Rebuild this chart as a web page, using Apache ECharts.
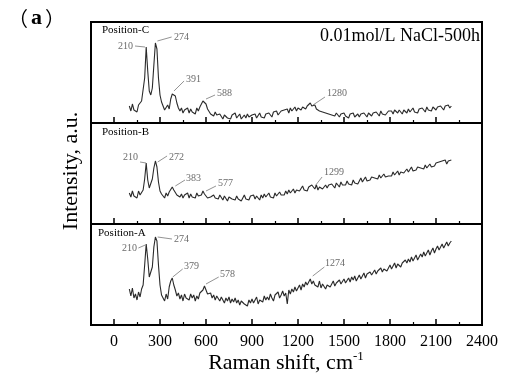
<!DOCTYPE html>
<html><head><meta charset="utf-8">
<script src="https://cdn.jsdelivr.net/npm/echarts@6/dist/echarts.min.js"></script>
<style>html,body{margin:0;padding:0;background:#fff}#c{width:528px;height:377px}</style>
</head><body><div id="c"></div>
<script>
const ramanShift = [
100,110,120,130,140,150,160,170,180,190,
200,210,220,230,240,250,260,270,280,290,
300,310,320,330,340,350,360,370,380,390,
400,410,420,430,440,450,460,470,480,490,
500,510,520,530,540,550,560,570,580,590,
600,610,620,630,640,650,660,670,680,690,
700,710,720,730,740,750,760,770,780,790,
800,810,820,830,840,850,860,870,880,890,
900,910,920,930,940,950,960,970,980,990,
1000,1010,1020,1030,1040,1050,1060,1070,1080,1090,
1100,1110,1120,1130,1140,1150,1160,1170,1180,1190,
1200,1210,1220,1230,1240,1250,1260,1270,1280,1290,
1300,1310,1320,1330,1340,1350,1360,1370,1380,1390,
1400,1410,1420,1430,1440,1450,1460,1470,1480,1490,
1500,1510,1520,1530,1540,1550,1560,1570,1580,1590,
1600,1610,1620,1630,1640,1650,1660,1670,1680,1690,
1700,1710,1720,1730,1740,1750,1760,1770,1780,1790,
1800,1810,1820,1830,1840,1850,1860,1870,1880,1890,
1900,1910,1920,1930,1940,1950,1960,1970,1980,1990,
2000,2010,2020,2030,2040,2050,2060,2070,2080,2090,
2100,2110,2120,2130,2140,2150,2160,2170,2180,2190,
2200];

// Position-C (top panel)
const intensityC = [
17,12,19,13,15,11,18,16,22,20,
45,76,52,32,28,35,58,80,74,45,
28,21,17,13,15,18,14,24,29,31,
27,20,15,12,15,10,13,11,15,10,
14,11,12,9,15,12,16,18,22,24,
19,14,12,9,10,7,11,8,6,9,
7,4,8,9,5,7,4,8,6,10,
5,7,9,4,6,8,5,9,6,4,
8,6,9,5,7,10,6,8,5,9,
7,10,8,6,11,9,12,8,10,12,
10,13,11,14,10,15,12,13,16,12,
15,17,13,16,18,14,17,16,20,17,
16,18,14,15,12,14,11,13,10,12,
9,11,8,10,7,10,8,6,9,7,
10,7,8,5,9,7,10,6,8,9,
6,9,7,10,8,6,10,8,7,10,
8,11,9,7,12,9,11,8,10,12,
10,12,9,13,11,10,13,11,9,13,
12,10,14,11,13,15,11,13,10,14,
12,15,13,11,16,13,14,12,16,14,
13,16,14,17,15,13,17,15,18,15,
17];

// Position-B (middle panel)
const intensityB = [
31,27,33,28,30,26,33,29,31,34,
45,61,44,36,38,45,56,63,57,42,
33,30,29,26,31,28,32,31,37,34,
32,29,31,27,30,26,29,28,31,26,
30,27,29,26,31,28,30,29,33,30,
29,26,28,27,25,29,26,28,25,29,
27,24,28,26,23,27,29,25,27,24,
28,25,27,23,26,29,25,27,24,28,
26,29,25,28,27,24,29,26,30,27,
28,31,27,29,26,31,28,30,32,29,
31,29,33,30,34,31,32,35,31,34,
36,33,35,38,34,36,33,37,36,39,
37,35,39,34,37,38,35,37,39,36,
39,37,40,38,36,41,39,37,42,39,
41,39,43,40,42,39,44,41,43,40,
43,46,42,44,47,43,45,44,47,45,
46,48,45,49,46,48,50,47,49,48,
50,48,52,49,51,53,49,52,54,51,
53,55,52,54,57,53,55,54,57,55,
56,58,55,59,56,58,60,57,59,58,
61,59,62,60,63,61,64,60,63,62,
64];

// Position-A (bottom panel)
const intensityA = [
36,29,37,27,31,25,33,28,36,40,
60,81,66,48,46,58,78,88,84,60,
40,30,28,24,31,26,38,44,47,40,
35,29,32,26,30,24,31,27,29,25,
31,27,30,24,29,26,32,30,35,39,
35,31,29,32,27,30,25,29,27,24,
28,25,22,27,24,28,22,26,23,27,
22,25,20,24,26,21,23,19,25,22,
26,22,24,28,21,25,27,23,29,25,
28,25,31,27,24,30,28,33,27,30,
34,29,32,21,35,31,36,33,38,34,
37,40,35,41,38,43,40,42,46,41,
44,40,42,38,44,37,41,39,36,40,
42,38,41,44,39,42,40,45,41,43,
46,42,44,47,43,48,45,49,44,47,
50,46,49,52,47,51,49,53,50,52,
55,51,54,52,57,53,56,58,54,57,
60,56,59,62,57,61,63,58,62,60,
65,62,66,63,68,64,67,70,65,68,
71,68,73,69,72,75,70,74,77,72,
76,79,75,78,81,77,80,83,79,82,
84];

const xTickLabels = [0,300,600,900,1200,1500,1800,2100,2400];
const xMinorTicks = [150,450,750,1050,1350,1650,1950,2250];
const panelNames = ['Position-C','Position-B','Position-A'];

// peak annotations: label text, peak point, leader end, text anchor, side
const peaksC = [
  {text:'210', peak:[202,76], end:[137,77], anchor:[130,76.5], side:'left'},
  {text:'274', peak:[283,82], end:[376,86], anchor:[385,85.5], side:'right'},
  {text:'391', peak:[391,32], end:[457,42], anchor:[463,44], side:'right'},
  {text:'588', peak:[600,24], end:[659,28], anchor:[665,30], side:'right'},
  {text:'1280', peak:[1298,18], end:[1376,26], anchor:[1383,30], side:'right'}
];
const peaksB = [
  {text:'210', peak:[209,61], end:[170,62], anchor:[163,67], side:'left'},
  {text:'272', peak:[285,62], end:[346,68], anchor:[352,67], side:'right'},
  {text:'383', peak:[400,38], end:[463,44], anchor:[463,46], side:'right'},
  {text:'577', peak:[600,33], end:[665,38], anchor:[672,41], side:'right'},
  {text:'1299', peak:[1311,38], end:[1357,47], anchor:[1363,52], side:'right'}
];
const peaksA = [
  {text:'210', peak:[204,80], end:[159,77], anchor:[157,77], side:'left'},
  {text:'274', peak:[285,88], end:[378,86], anchor:[385,86], side:'right'},
  {text:'379', peak:[383,48], end:[448,56], anchor:[450,59], side:'right'},
  {text:'578', peak:[600,41], end:[683,48], anchor:[685,51], side:'right'},
  {text:'1274', peak:[1296,49], end:[1372,58], anchor:[1370,62], side:'right'}
];

const panels = [
  {values: intensityC, peaks: peaksC},
  {values: intensityB, peaks: peaksB},
  {values: intensityA, peaks: peaksA}
];

const SERIF = "'Liberation Serif','Times New Roman',serif";
const grids = [], xAxes = [], yAxes = [], series = [];
panels.forEach((p, i) => {
  grids.push({left:91, top:22 + 101*i, width:391, height:101, show:true,
    borderColor:'#000', borderWidth:2, backgroundColor:'transparent'});
  xAxes.push({type:'value', gridIndex:i, min:-150, max:2400, position:'bottom',
    splitLine:{show:false}, axisLine:{show:false},
    axisTick:{show:true, inside:true, length:6, customValues:xTickLabels, lineStyle:{color:'#000', width:1.5}},
    axisLabel:{show:i===2, customValues:xTickLabels, formatter:v => String(v),
      fontSize:16, fontFamily:SERIF, color:'#000', margin:9}
  });
  xAxes.push({type:'value', gridIndex:i, min:-150, max:2400, position:'bottom',
    splitLine:{show:false}, axisLine:{show:false},
    axisTick:{show:true, inside:true, length:3, customValues:xMinorTicks, lineStyle:{color:'#000', width:1.2}},
    axisLabel:{show:false}
  });
  yAxes.push({type:'value', gridIndex:i, min:0, max:101, show:false});
  series.push({
    type:'line', xAxisIndex:2*i, yAxisIndex:i,
    data: ramanShift.map((x, k) => [x, p.values[k]]),
    showSymbol:false, symbol:'none',
    lineStyle:{color:'#2a2a2a', width:1.1},
    animation:false, silent:true,
    markLine:{
      silent:true, symbol:['none','none'], animation:false,
      label:{show:false},
      lineStyle:{color:'#777', width:0.8, type:'solid'},
      data: p.peaks.map(a => [{coord:a.peak}, {coord:a.end}])
    }
  });
  series.push({
    type:'scatter', xAxisIndex:2*i, yAxisIndex:i, symbolSize:0, silent:true, animation:false,
    data: p.peaks.map(a => ({name:a.text, value:a.anchor,
      label:{position:a.side}})),
    label:{show:true, formatter:'{b}', distance:1, fontSize:10, fontFamily:SERIF, color:'#444'}
  });
});

const graphics = [
  {type:'text', x:8, y:18, style:{text:'{p|（}{a|a}{p|）}', verticalAlign:'middle',
    rich:{p:{fontSize:20, fontFamily:"'Noto Sans CJK SC'", fill:'#000'},
          a:{fontSize:22, fontWeight:'bold', fontFamily:SERIF, fill:'#000', padding:[0,3,0,3]}}}},
  {type:'text', x:480, y:36, style:{text:'0.01mol/L NaCl-500h', fontSize:18, fontFamily:SERIF, fill:'#000', align:'right', verticalAlign:'middle'}},
  {type:'text', x:102, y:30, style:{text:panelNames[0], fontSize:11, fontFamily:SERIF, fill:'#000', verticalAlign:'middle'}},
  {type:'text', x:102, y:132, style:{text:panelNames[1], fontSize:11, fontFamily:SERIF, fill:'#000', verticalAlign:'middle'}},
  {type:'text', x:98, y:233, style:{text:panelNames[2], fontSize:11, fontFamily:SERIF, fill:'#000', verticalAlign:'middle'}},
  {type:'text', x:71, y:171, rotation:Math.PI/2, style:{text:'Intensity, a.u.', fontSize:22, fontFamily:SERIF, fill:'#000', align:'center', verticalAlign:'middle'}},
  {type:'text', x:286, y:362, style:{text:'{m|Raman shift, cm}{s|-1}', align:'center', verticalAlign:'middle',
    rich:{m:{fontSize:22, fontFamily:SERIF, fill:'#000', lineHeight:24, verticalAlign:'bottom'},
          s:{fontSize:13, fontFamily:SERIF, fill:'#000', lineHeight:24, verticalAlign:'top', padding:[0,0,8,0]}}}}
];

const chart = echarts.init(document.getElementById('c'), null, {renderer:'canvas'});
chart.setOption({
  backgroundColor:'#fff',
  animation:false,
  grid: grids, xAxis: xAxes, yAxis: yAxes, series: series,
  graphic: graphics
});
</script></body></html>
